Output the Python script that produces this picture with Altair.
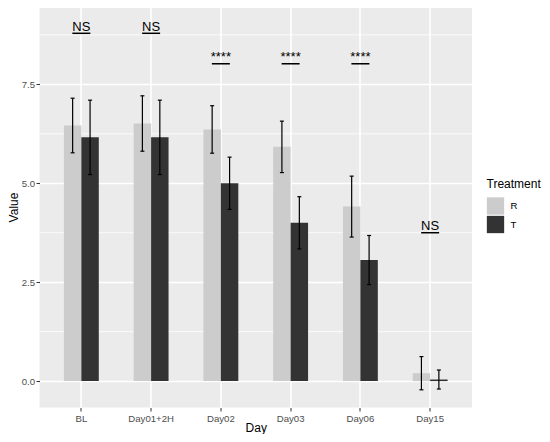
import altair as alt
import pandas as pd

days = ["BL", "Day01+2H", "Day02", "Day03", "Day06", "Day15"]
treatments = ["R", "T"]
r_mean = [6.46, 6.51, 6.36, 5.92, 4.41, 0.20]
r_sd = [0.69, 0.70, 0.60, 0.65, 0.77, 0.42]
t_mean = [6.16, 6.16, 5.00, 4.00, 3.06, 0.04]
t_sd = [0.94, 0.94, 0.66, 0.66, 0.62, 0.24]
sig_labels = ["NS", "NS", "****", "****", "****", "NS"]
sig_y = [8.79, 8.79, 8.02, 8.02, 8.02, 3.75]
minor_breaks = [1.25, 3.75, 6.25, 8.75]
major_breaks = [0.0, 2.5, 5.0, 7.5]

rows = []
for i, d in enumerate(days):
    rows.append({"Day": d, "Treatment": "R", "Value": r_mean[i],
                 "lo": r_mean[i] - r_sd[i], "hi": r_mean[i] + r_sd[i]})
    rows.append({"Day": d, "Treatment": "T", "Value": t_mean[i],
                 "lo": t_mean[i] - t_sd[i], "hi": t_mean[i] + t_sd[i]})
df = pd.DataFrame(rows)
sig = pd.DataFrame({"Day": days, "label": sig_labels, "y": sig_y})
minor = pd.DataFrame({"v": minor_breaks})

FONT = "Liberation Sans"
yscale = alt.Scale(domain=[-0.667, 9.48], nice=False, zero=False)
xscale = alt.Scale(domain=days, paddingInner=0, paddingOuter=0.1)
xoff = alt.XOffset("Treatment:N", scale=alt.Scale(domain=treatments, paddingInner=0, paddingOuter=1))

x_enc = alt.X("Day:N", sort=days, scale=xscale, title="Day",
              axis=alt.Axis(grid=True, gridColor="white", gridWidth=1.6, bandPosition=0.5,
                            domain=False, ticks=True, tickSize=3.5, tickColor="#333333", tickWidth=1,
                            labelAngle=0, labelFontSize=9.6, labelColor="#4D4D4D", labelFont=FONT,
                            labelPadding=2, titleFont=FONT, titleFontSize=12, titleColor="black",
                            titleFontWeight="normal", titleY=24, titleBaseline="alphabetic"))

minor_grid = alt.Chart(minor).mark_rule(color="white", strokeWidth=0.8).encode(
    y=alt.Y("v:Q", scale=yscale)
)

bars = alt.Chart(df).mark_bar().encode(
    x=x_enc,
    xOffset=xoff,
    y=alt.Y("Value:Q", scale=yscale, title="Value",
            axis=alt.Axis(values=major_breaks, format=".1f", grid=True, gridColor="white", gridWidth=1.6,
                          domain=False, tickSize=3.5, tickColor="#333333", tickWidth=1,
                          labelFontSize=9.6, labelColor="#4D4D4D", labelFont=FONT, labelPadding=1.5,
                          titleFont=FONT, titleFontSize=12, titleColor="black", titleFontWeight="normal",
                          titleX=-22, titleY=201, titleBaseline="alphabetic", titleAngle=-90)),
    fill=alt.Fill("Treatment:N", scale=alt.Scale(domain=treatments, range=["#CCCCCC", "#333333"]),
                  legend=alt.Legend(title="Treatment", orient="none", legendX=447, legendY=173,
                                    symbolType="square", symbolSize=300, symbolStrokeWidth=0,
                                    symbolOpacity=1, labelFontSize=9.6, labelFont=FONT, labelColor="black",
                                    titleFontSize=12, titleFont=FONT, titleFontWeight="normal",
                                    titleColor="black", titlePadding=6, labelOffset=6, rowPadding=0.5,
                                    padding=0)),
)

err = alt.Chart(df).mark_rule(color="black", strokeWidth=1.2).encode(
    x=alt.X("Day:N", sort=days, scale=xscale),
    xOffset=xoff,
    y=alt.Y("lo:Q", scale=yscale),
    y2="hi:Q",
)
cap_lo = alt.Chart(df).mark_tick(color="black", size=4, thickness=1.2, opacity=1).encode(
    x=alt.X("Day:N", sort=days, scale=xscale),
    xOffset=xoff,
    y=alt.Y("lo:Q", scale=yscale),
)
cap_hi = alt.Chart(df).mark_tick(color="black", size=4, thickness=1.2, opacity=1).encode(
    x=alt.X("Day:N", sort=days, scale=xscale),
    xOffset=xoff,
    y=alt.Y("hi:Q", scale=yscale),
)

sig_line = alt.Chart(sig).mark_tick(color="black", size=18, thickness=1.5, opacity=1).encode(
    x=alt.X("Day:N", sort=days, scale=xscale),
    y=alt.Y("y:Q", scale=yscale),
)
sig_text = alt.Chart(sig).mark_text(font=FONT, fontSize=13, color="black", baseline="alphabetic", dy=-2.5).encode(
    x=alt.X("Day:N", sort=days, scale=xscale),
    y=alt.Y("y:Q", scale=yscale),
    text="label:N",
)

chart = alt.layer(minor_grid, bars, err, cap_lo, cap_hi, sig_line, sig_text).properties(
    width=432.5, height=401.5,
    autosize=alt.AutoSizeParams(type="none"),
    padding={"left": 31.5, "top": -2, "right": 70, "bottom": 26},
    background="white",
).configure_view(fill="#EBEBEB", strokeWidth=0)

chart.save("out.html", embed_options={"renderer": "svg", "actions": False})
